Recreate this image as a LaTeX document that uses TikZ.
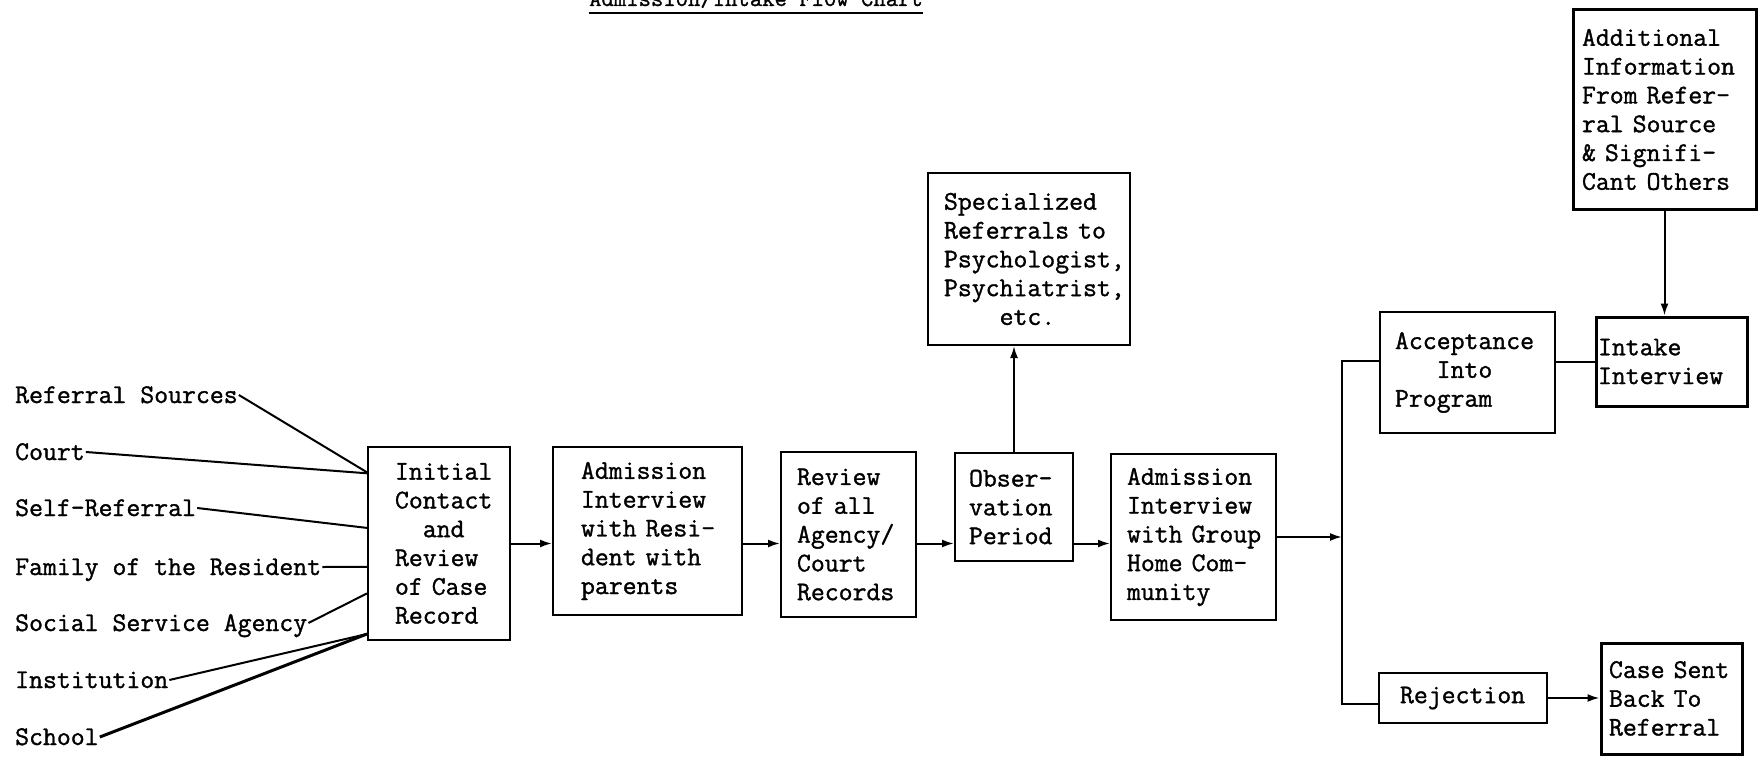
\documentclass[tikz,border=0pt]{standalone}
\usepackage{fontspec}
\newfontfamily\tyfam{Latin Modern Mono}[FakeBold=1.2]
\usetikzlibrary{arrows.meta,calc}
\newcommand{\tyf}{\tyfam\fontsize{27}{28.8}\selectfont\hyphenpenalty=10000\exhyphenpenalty=10000\relax}
\newcommand{\ttlf}{\tyfam\fontsize{24}{28}\selectfont}
\begin{document}
\begin{tikzpicture}[x=1pt,y=-1pt,
  box/.style={draw, line width=2pt, font=\tyf, align=left, inner ysep=2pt},
  heavy/.style={line width=3pt},
  lab/.style={font=\tyf, anchor=west, inner sep=1pt, text height=16pt, text depth=0pt},
  arr/.style={line width=2pt, -{Latex[length=12pt,width=8pt]}},
  con/.style={line width=2pt}]
\useasboundingbox (0,0) rectangle (1762,760);
\fill[white] (0,0) rectangle (1762,760);

% title (cut by the top edge, as in the scan)
\node[font=\ttlf, anchor=base, inner sep=0pt] (title) at (756,6) {Admission/Intake Flow Chart};
\draw[line width=2.2pt] ([yshift=-7pt]title.base west) -- ([yshift=-7pt]title.base east);

% boxes
\node[box, minimum height=193pt, text width=88pt, inner xsep=27pt] (init) at (439,543.5)
  {Initial\\Contact\\\phantom{xx}and\\Review\\of~Case\\Record};
\node[box, minimum height=168pt, text width=133pt, inner xsep=28pt] (adm) at (647.5,531)
  {Admission\\Interview\\with~Resi-\\dent~with\\parents};
\node[box, minimum height=165pt, text width=103pt, inner xsep=16pt] (rev) at (848.5,534.5)
  {Review\\of~all\\Agency/\\Court\\Records};
\node[box, minimum height=108pt, text width=90pt, inner xsep=14pt] (obs) at (1014,507)
  {Obser-\\vation\\Period};
\node[box, minimum height=172pt, text width=170pt, inner xsep=16pt] (spec) at (1029,259)
  {Specialized\\Referrals~to\\Psychologist,\\Psychiatrist,\\\phantom{xxxx}etc.};
\node[box, minimum height=166pt, text width=133pt, inner xsep=16pt] (adm2) at (1193.5,537)
  {Admission\\Interview\\with~Group\\Home~Com-\\munity};
\node[box, minimum height=121pt, text width=145pt, inner xsep=15pt] (acc) at (1467.5,372.5)
  {Acceptance\\\phantom{xxx}Into\\Program};
\node[box, heavy, minimum height=89pt, text width=147pt, inner xsep=2pt] (intake) at (1671.5,361.5)
  {Intake\\Interview};
\node[box, heavy, minimum height=199pt, text width=165pt, inner xsep=9pt] (add) at (1664.5,109.5)
  {Additional\\Information\\From~Refer-\\ral~Source\\\&~Signifi-\\Cant~Others};
\node[box, minimum height=50pt, text width=126pt, inner xsep=21pt] (rej) at (1463,698)
  {Rejection};
\node[box, heavy, minimum height=111pt, text width=125pt, inner xsep=8pt] (case) at (1671.5,698.5)
  {Case~Sent\\Back~To\\Referral};

% referral sources
\node[lab] (l1) at (14,395) {Referral Sources};
\node[lab] (l2) at (14,452) {Court};
\node[lab] (l3) at (14,508) {Self-Referral};
\node[lab] (l4) at (14,567) {Family of the Resident};
\node[lab] (l5) at (14,623) {Social Service Agency};
\node[lab] (l6) at (14,680) {Institution};
\node[lab] (l7) at (14,737) {School};

\draw[con] (l1.east) -- ($(init.north west)!0.135!(init.south west)$);
\draw[con] (l2.east) -- ($(init.north west)!0.14!(init.south west)$);
\draw[con] (l3.east) -- ($(init.north west)!0.42!(init.south west)$);
\draw[con] (l4.east) -- ($(init.north west)!0.62!(init.south west)$);
\draw[con] (l5.east) -- ($(init.north west)!0.756!(init.south west)$);
\draw[con] (l6.east) -- ($(init.north west)!0.964!(init.south west)$);
\draw[con, line width=3pt] (l7.east) -- ($(init.north west)!0.964!(init.south west)$);

% main flow
\draw[arr] (init.east) -- (init.east -| adm.west);
\draw[arr] (adm.east |- init.east) -- (rev.west |- init.east);
\draw[arr] (rev.east |- init.east) -- (obs.west |- init.east);
\draw[arr] (obs.east |- init.east) -- (adm2.west |- init.east);
\draw[arr] (obs.north) -- (obs.north |- spec.south);

% branch
\coordinate (bt) at (1342,361);
\coordinate (bb) at (1342,704);
\draw[con] (acc.west |- bt) -- (bt) -- (bb) -- (rej.west |- bb);
\draw[arr] (adm2.east) -- (adm2.east -| bt);
\draw[con] (intake.west -| acc.east) -- (intake.west);
\draw[arr] (add.south) -- (add.south |- intake.north);
\draw[arr] (rej.east) -- (rej.east -| case.west);
\end{tikzpicture}
\end{document}
